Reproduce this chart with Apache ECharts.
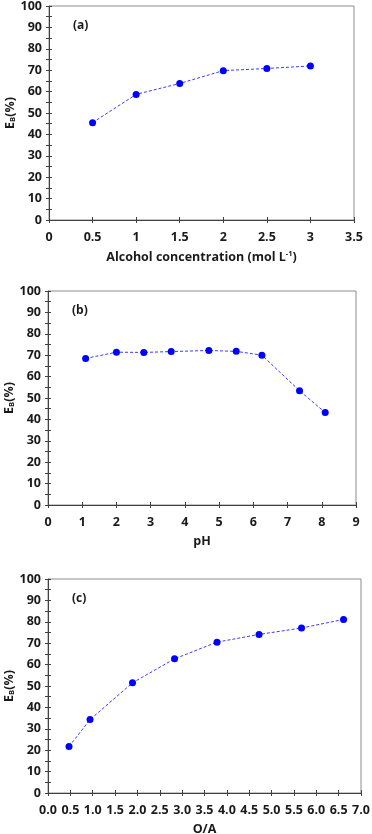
<!DOCTYPE html>
<html>
<head>
<meta charset="utf-8">
<script src="https://cdn.jsdelivr.net/npm/echarts@6/dist/echarts.min.js"></script>
<style>
    html, body { margin: 0; padding: 0; background: #fff; }
    #chart { width: 372px; height: 834px; }
</style>
</head>
<body>
<div id="chart"></div>
<script>
    // panel (a): alcohol concentration
    const alcoholConc = [0.5, 1, 1.5, 2, 2.5, 3];
    const ebAlcohol = [45.5, 58.7, 63.8, 69.8, 70.8, 72.0];
    // panel (b): pH
    const phValues = [1.1, 2.0, 2.8, 3.6, 4.7, 5.5, 6.25, 7.35, 8.1];
    const ebPh = [68.5, 71.4, 71.3, 71.7, 72.2, 71.8, 70.0, 53.4, 43.2];
    // panel (c): O/A ratio
    const oaRatio = [0.47, 0.94, 1.89, 2.83, 3.78, 4.72, 5.67, 6.61];
    const ebOa = [21.7, 34.3, 51.5, 62.7, 70.5, 74.1, 77.1, 81.1];

    const panelLabels = ['(a)', '(b)', '(c)'];
    const xNames = ['Alcohol concentration (mol L{sup|-1})', 'pH', 'O/A'];

    const font = '"Open Sans", "Noto Sans", sans-serif';
    const axisColor = '#404040';
    const txtColor = '#1a1a1a';

    const grids = [
        { left: 49, top: 6, width: 305, height: 214 },
        { left: 48, top: 291, width: 308, height: 214 },
        { left: 48, top: 579, width: 313, height: 214 }
    ];
    const xRanges = [
        { max: 3.5, interval: 0.5, fmt: v => String(v) },
        { max: 9, interval: 1, fmt: v => String(v) },
        { max: 7, interval: 0.5, fmt: v => v.toFixed(1) }
    ];
    const seriesData = [
        alcoholConc.map((x, i) => [x, ebAlcohol[i]]),
        phValues.map((x, i) => [x, ebPh[i]]),
        oaRatio.map((x, i) => [x, ebOa[i]])
    ];

    let xAxis = [], yAxis = [], series = [], title = [];
    grids.forEach((g, i) => {
        let r = xRanges[i];
        // main x axis (ticks outside)
        xAxis.push({
            type: 'value', gridIndex: i, min: 0, max: r.max, interval: r.interval,
            position: 'bottom',
            name: xNames[i], nameLocation: 'middle', nameGap: 30, nameMoveOverlap: false,
            nameTextStyle: {
                fontFamily: font, fontWeight: 'bold', fontSize: 12.5, color: txtColor,
                rich: { sup: { fontFamily: font, fontWeight: 'bold', fontSize: 7.5, verticalAlign: 'top', padding: [0, 0, 6, 0], color: txtColor } }
            },
            axisLine: { show: true, onZero: false, lineStyle: { color: axisColor, width: 1 } },
            axisTick: { show: true, inside: false, length: 3, lineStyle: { color: axisColor } },
            axisLabel: { fontFamily: font, fontWeight: 'bold', fontSize: 12.5, color: txtColor, margin: 11, formatter: r.fmt },
            splitLine: { show: false }
        });
        // overlay x axis so ticks cross the line
        xAxis.push({
            type: 'value', gridIndex: i, min: 0, max: r.max, interval: r.interval,
            position: 'bottom',
            axisLine: { show: false, onZero: false },
            axisTick: { show: true, inside: true, length: 3, lineStyle: { color: axisColor } },
            axisLabel: { show: false },
            splitLine: { show: false }
        });
        yAxis.push({
            type: 'value', gridIndex: i, min: 0, max: 100, interval: 10,
            position: 'left',
            name: '{e|E}{s|B}{e|(%)}', nameLocation: 'middle', nameGap: 32, nameRotate: 90,
            nameMoveOverlap: false,
            nameTextStyle: {
                rich: {
                    e: { fontFamily: font, fontWeight: 'bold', fontSize: 12.5, color: txtColor },
                    s: { fontFamily: font, fontWeight: 'bold', fontSize: 7.5, color: txtColor, verticalAlign: 'bottom', padding: [5, 0, 0, 0] }
                }
            },
            axisLine: { show: true, onZero: false, lineStyle: { color: axisColor, width: 1 } },
            axisTick: { show: true, inside: false, length: 3, lineStyle: { color: axisColor } },
            minorTick: { show: true, splitNumber: 2, length: 3, lineStyle: { color: axisColor } },
            axisLabel: { fontFamily: font, fontWeight: 'bold', fontSize: 12.5, color: txtColor, margin: 7 },
            splitLine: { show: false }
        });
        yAxis.push({
            type: 'value', gridIndex: i, min: 0, max: 100, interval: 10,
            position: 'left',
            axisLine: { show: false, onZero: false },
            axisTick: { show: true, inside: true, length: 3, lineStyle: { color: axisColor } },
            minorTick: { show: true, splitNumber: 2, length: 3, lineStyle: { color: axisColor } },
            axisLabel: { show: false },
            splitLine: { show: false }
        });
        series.push({
            type: 'line', xAxisIndex: i * 2, yAxisIndex: i * 2,
            data: seriesData[i],
            symbol: 'circle', symbolSize: 7,
            itemStyle: { color: '#0000ff' },
            lineStyle: { color: '#3a3aff', width: 1, type: [3, 2] },
            animation: false
        });
        title.push({
            text: panelLabels[i],
            left: g.left + 19, top: g.top + 9,
            textStyle: { fontFamily: font, fontWeight: 'bold', fontSize: 12, color: txtColor }
        });
    });

    let mChart = echarts.init(document.getElementById('chart'));
    mChart.setOption({
        animation: false,
        title: title,
        grid: grids.map(g => Object.assign({
            show: true, borderColor: '#8c8c8c', borderWidth: 1, backgroundColor: 'transparent',
            containLabel: false, outerBoundsMode: 'none'
        }, g)),
        xAxis: xAxis,
        yAxis: yAxis,
        series: series
    });
</script>
</body>
</html>
